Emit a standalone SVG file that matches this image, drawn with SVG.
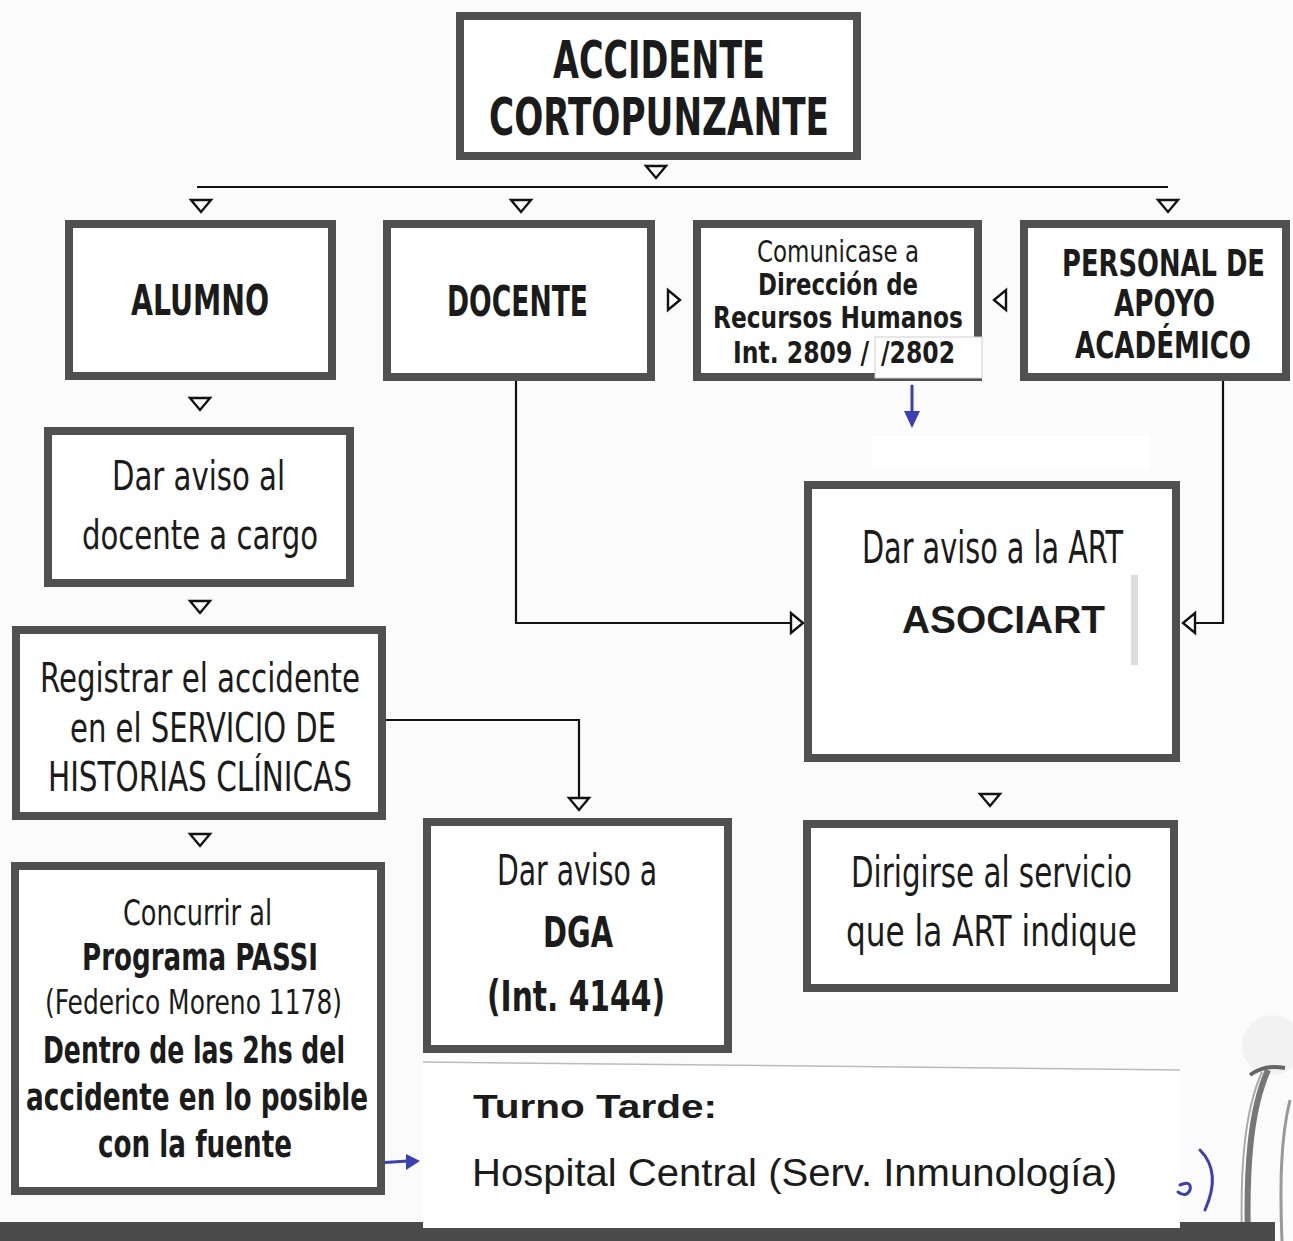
<svg xmlns="http://www.w3.org/2000/svg" width="1293" height="1241" viewBox="0 0 1293 1241">
<defs>
<style>
.box{fill:#fff;stroke:#505050;stroke-width:8}
.t{font-family:"Liberation Sans Narrow","DejaVu Sans Condensed","Liberation Sans",sans-serif;font-stretch:condensed;fill:#1b1b1b}
.b{font-weight:bold}
.a{font-family:"Liberation Sans",Arial,sans-serif;fill:#1b1b1b}
.c{fill:none;stroke:#111;stroke-width:2.2}
.patch{fill:#fff}
.blue{fill:none;stroke:#3b40b0;stroke-width:3;stroke-linecap:round}
.bluef{fill:#3b40b0}
</style>
<path id="td" d="M-10,-6 L10,-6 L0,6 Z" fill="#fff" stroke="#111" stroke-width="2.4" stroke-linejoin="miter"/>
</defs>
<rect x="0" y="0" width="1293" height="1241" fill="#fbfbfb"/>

<!-- decorative right-bottom object -->
<g id="decor">
<circle cx="1272" cy="1045" r="30" fill="#f2f2f2"/>
<path d="M1268,1070 C1250,1110 1246,1170 1248,1241" fill="none" stroke="#777" stroke-width="6"/>
<path d="M1262,1072 C1244,1112 1240,1170 1242,1241" fill="none" stroke="#aaa" stroke-width="2"/>
<path d="M1290,1100 C1280,1140 1280,1190 1282,1241" fill="none" stroke="#999" stroke-width="3"/>
<path d="M1250,1075 Q1265,1064 1285,1068" fill="none" stroke="#666" stroke-width="4"/>
</g>

<!-- bottom band -->
<rect x="0" y="1222" width="1275" height="19" fill="#4b4b4b"/>

<g id="connectors">
<line class="c" x1="197" y1="187" x2="1168" y2="187"/>
<polyline class="c" points="386,720 579,720 579,797"/>
<polyline class="c" points="516,381 516,623 791,623"/>
<polyline class="c" points="1223,381 1223,623 1195,623"/>
<use href="#td" transform="translate(656,172)"/>
<use href="#td" transform="translate(201,206)"/>
<use href="#td" transform="translate(521,206)"/>
<use href="#td" transform="translate(1168,206)"/>
<use href="#td" transform="translate(674,300) rotate(-90)"/>
<use href="#td" transform="translate(1000,300) rotate(90)"/>
<use href="#td" transform="translate(200,404)"/>
<use href="#td" transform="translate(200,607)"/>
<use href="#td" transform="translate(200,840)"/>
<use href="#td" transform="translate(579,804)"/>
<use href="#td" transform="translate(797,623) rotate(-90)"/>
<use href="#td" transform="translate(1189,623) rotate(90)"/>
<use href="#td" transform="translate(990,800)"/>
<!-- blue hand-drawn arrows -->
<path class="blue" d="M912,386 L912,414" stroke-width="4"/>
<path class="bluef" d="M904,411 L920,411 L912,428 Z"/>
<path class="blue" d="M362,1164 L408,1161" stroke-width="2.5"/>
<path class="bluef" d="M406,1154 L420,1161 L406,1170 Z"/>
</g>

<g id="n-accidente">
<rect class="box" x="460" y="16" width="397" height="140"/>
<text class="t b" x="553" y="78" font-size="52" textLength="212" lengthAdjust="spacingAndGlyphs">ACCIDENTE</text>
<text class="t b" x="489" y="135" font-size="52" textLength="340" lengthAdjust="spacingAndGlyphs">CORTOPUNZANTE</text>
</g>

<g id="n-alumno">
<rect class="box" x="69" y="224" width="263" height="152"/>
<text class="t b" x="131" y="315" font-size="42" textLength="138" lengthAdjust="spacingAndGlyphs">ALUMNO</text>
</g>

<g id="n-docente">
<rect class="box" x="387" y="224" width="264" height="153"/>
<text class="t b" x="447" y="316" font-size="42" textLength="141" lengthAdjust="spacingAndGlyphs">DOCENTE</text>
</g>

<g id="n-rrhh">
<rect class="box" x="697" y="224" width="281" height="153"/>
<text class="t" x="757" y="262" font-size="31" textLength="162" lengthAdjust="spacingAndGlyphs">Comunicase a</text>
<text class="t b" x="758" y="295" font-size="31" textLength="160" lengthAdjust="spacingAndGlyphs">Dirección de</text>
<text class="t b" x="713" y="328" font-size="31" textLength="250" lengthAdjust="spacingAndGlyphs">Recursos Humanos</text>
<text class="t b" x="733" y="363" font-size="31" textLength="136" lengthAdjust="spacingAndGlyphs">Int. 2809 /</text>
<rect class="patch" x="875" y="337" width="107" height="41" stroke="#cfcfcf" stroke-width="1"/>
<text class="t b" x="881" y="363" font-size="31" textLength="74" lengthAdjust="spacingAndGlyphs">/2802</text>
</g>

<g id="n-personal">
<rect class="box" x="1024" y="224" width="262" height="153"/>
<text class="t b" x="1062" y="276" font-size="38" textLength="203" lengthAdjust="spacingAndGlyphs">PERSONAL DE</text>
<text class="t b" x="1114" y="316" font-size="38" textLength="101" lengthAdjust="spacingAndGlyphs">APOYO</text>
<text class="t b" x="1075" y="358" font-size="38" textLength="176" lengthAdjust="spacingAndGlyphs">ACADÉMICO</text>
</g>

<g id="n-aviso-docente">
<rect class="box" x="48" y="431" width="302" height="152"/>
<text class="t" x="112" y="490" font-size="40" textLength="173" lengthAdjust="spacingAndGlyphs">Dar aviso al</text>
<text class="t" x="82" y="549" font-size="40" textLength="236" lengthAdjust="spacingAndGlyphs">docente a cargo</text>
</g>

<g id="n-registrar">
<rect class="box" x="16" y="630" width="366" height="186"/>
<text class="t" x="40" y="692" font-size="40" textLength="320" lengthAdjust="spacingAndGlyphs">Registrar el accidente</text>
<text class="t" x="70" y="742" font-size="40" textLength="266" lengthAdjust="spacingAndGlyphs">en el SERVICIO DE</text>
<text class="t" x="48" y="791" font-size="40" textLength="304" lengthAdjust="spacingAndGlyphs">HISTORIAS CLÍNICAS</text>
</g>

<g id="n-passi">
<rect class="box" x="15" y="866" width="366" height="325"/>
<text class="t" x="123" y="925" font-size="36" textLength="149" lengthAdjust="spacingAndGlyphs">Concurrir al</text>
<text class="t b" x="82" y="970" font-size="38" textLength="236" lengthAdjust="spacingAndGlyphs">Programa PASSI</text>
<text class="t" x="45" y="1014" font-size="34" textLength="297" lengthAdjust="spacingAndGlyphs">(Federico Moreno 1178)</text>
<text class="t b" x="43" y="1063" font-size="38" textLength="302" lengthAdjust="spacingAndGlyphs">Dentro de las 2hs del</text>
<text class="t b" x="26" y="1110" font-size="38" textLength="342" lengthAdjust="spacingAndGlyphs">accidente en lo posible</text>
<text class="t b" x="98" y="1157" font-size="38" textLength="194" lengthAdjust="spacingAndGlyphs">con la fuente</text>
</g>

<g id="n-dga">
<rect class="box" x="427" y="822" width="301" height="227"/>
<text class="t" x="497" y="885" font-size="42" textLength="160" lengthAdjust="spacingAndGlyphs">Dar aviso a</text>
<text class="t b" x="543" y="947" font-size="42" textLength="70" lengthAdjust="spacingAndGlyphs">DGA</text>
<text class="t b" x="487" y="1011" font-size="42" textLength="178" lengthAdjust="spacingAndGlyphs">(Int. 4144)</text>
</g>

<g id="n-art">
<rect class="patch" x="872" y="436" width="278" height="34"/>
<rect class="box" x="808" y="485" width="368" height="273"/>
<text class="t" x="862" y="563" font-size="44" textLength="261" lengthAdjust="spacingAndGlyphs">Dar aviso a la ART</text>
<rect class="patch" x="848" y="567" width="294" height="108"/>
<rect x="1131" y="575" width="7" height="90" fill="#dcdcdc"/>
<rect class="patch" x="860" y="675" width="276" height="36"/>
<text class="a b" x="902" y="633" font-size="38" textLength="203" lengthAdjust="spacingAndGlyphs">ASOCIART</text>
</g>

<g id="n-dirigirse">
<rect class="box" x="807" y="824" width="367" height="164"/>
<text class="t" x="851" y="887" font-size="42" textLength="281" lengthAdjust="spacingAndGlyphs">Dirigirse al servicio</text>
<text class="t" x="846" y="946" font-size="42" textLength="291" lengthAdjust="spacingAndGlyphs">que la  ART indique</text>
</g>

<g id="n-turno">
<path d="M423,1062 L1180,1070 L1180,1228 L423,1228 Z" fill="#fff"/>
<path d="M423,1062 L1180,1070" fill="none" stroke="#bbb" stroke-width="1.5"/>
<text class="a b" x="473" y="1118" font-size="33" textLength="244" lengthAdjust="spacingAndGlyphs">Turno Tarde:</text>
<text class="a" x="472" y="1186" font-size="39" textLength="645" lengthAdjust="spacingAndGlyphs">Hospital Central (Serv. Inmunología)</text>
<path class="blue" d="M1180,1185 Q1192,1180 1190,1190 Q1186,1198 1178,1192 M1200,1150 Q1222,1172 1205,1210" stroke-width="2"/>
</g>
</svg>
